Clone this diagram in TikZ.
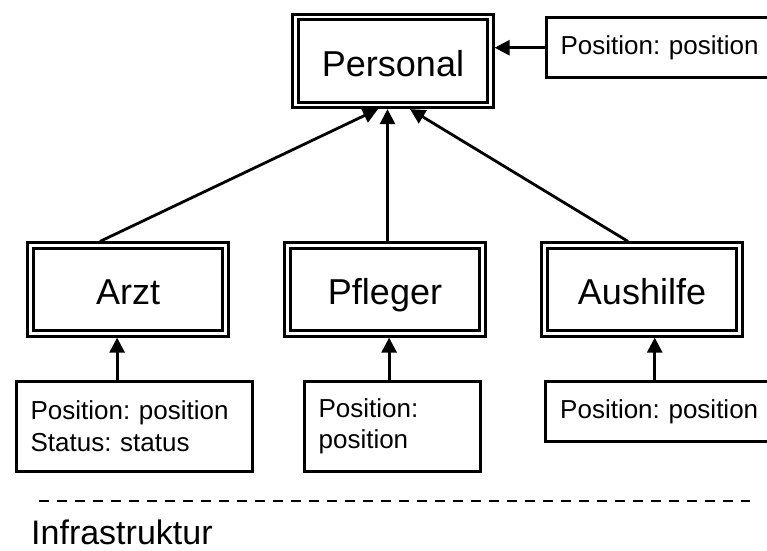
\documentclass[tikz,border=0pt]{standalone}
\usepackage{fontspec}
\setmainfont{Liberation Sans}
\usetikzlibrary{arrows.meta}
\frenchspacing

\begin{document}
\begin{tikzpicture}[x=1pt,y=-1pt,
  klasse/.style={draw,line width=2.8pt,double,double distance=2.6pt,outer sep=4.1pt,
    minimum width=195pt,minimum height=88pt,text height=31pt,text depth=1pt,font=\fontsize{36}{40}\selectfont},
  attr/.style={draw,line width=2.8pt,anchor=north west,align=left,inner xsep=14.5pt,inner ysep=0pt,
    font=\fontsize{26}{31.5}\selectfont},
  arr/.style={line width=2.8pt,-{Triangle[length=15pt,width=15pt]}}]
\useasboundingbox (0,0) rectangle (767,550);
\node[klasse] (personal) at (393,61) {Personal};
\foreach \n/\t/\x in {arzt/Arzt/128,pfleger/Pfleger/385,aushilfe/Aushilfe/642}{\node[klasse] (\n) at (\x,289.5) {\t};}
\node[attr,text width=211pt,minimum height=60pt] (personalattr) at (544.7,16.3) {Position: position};
\node[attr,text width=207pt,minimum height=90pt] (arztattr) at (14.7,380) {Position: position\\Status: status};
\node[attr,text width=147pt,minimum height=90pt] (pflegerattr) at (302.7,380) {Position:\\position};
\node[attr,text width=211pt,minimum height=60pt] (aushilfeattr) at (544.3,380) {Position: position};
\draw[arr] (personalattr.west) -- (personalattr.west -| personal.east);
\draw[arr] ([xshift=-28pt]arzt.north) -- ([xshift=-15pt]personal.south);
\draw[arr] ([xshift=2.5pt]pfleger.north) -- ([xshift=2.5pt]pfleger.north |- personal.south);
\draw[arr] ([xshift=-14pt]aushilfe.north) -- ([xshift=17pt]personal.south);
\draw[arr] ([xshift=-17pt]arztattr.north) -- ([xshift=-17pt]arztattr.north |- arzt.south);
\draw[arr] ([xshift=-3pt]pflegerattr.north) -- ([xshift=-3pt]pflegerattr.north |- pfleger.south);
\draw[arr] ([xshift=-11pt]aushilfeattr.north) -- ([xshift=-11pt]aushilfeattr.north |- aushilfe.south);
% Trennlinie
\coordinate (trennA) at (39,501); \coordinate (trennB) at (750,501);
\draw[line width=2.2pt,dash pattern=on 10pt off 8pt] (trennA) -- (trennB);
\node[anchor=base west,inner sep=0pt,font=\fontsize{34}{40}\selectfont] (infra) at (31,544) {Infrastruktur};
\end{tikzpicture}
\end{document}
